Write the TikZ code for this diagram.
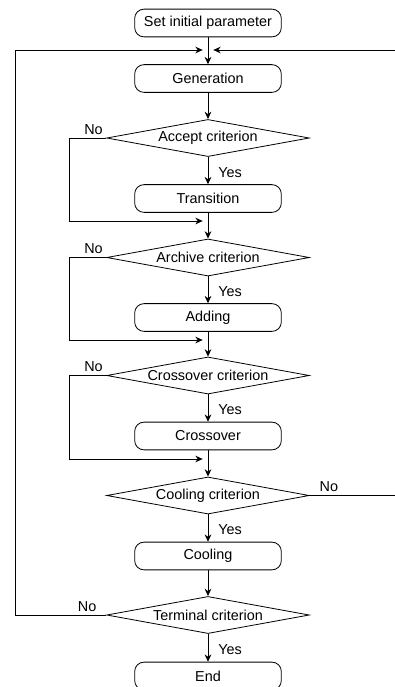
\documentclass[tikz,border=0pt]{standalone}
\usepackage{fontspec}
\setmainfont{Liberation Sans}
\usetikzlibrary{arrows.meta,shapes.geometric}

\begin{document}
\begin{tikzpicture}[
  x=0.75pt,y=-0.75pt,
  every node/.style={font=\fontsize{10.8}{13}\selectfont},
  procbox/.style={draw,line width=0.6pt,rounded corners=7pt,minimum width=110pt,
                  minimum height=20.8pt,inner sep=0pt},
  critbox/.style={draw,line width=0.6pt,diamond,shape aspect=5.47,minimum width=152pt,
                  minimum height=27.8pt,inner sep=0pt},
  arr/.style={-{Stealth[length=5.5pt,width=5pt]},line width=0.6pt},
  lbl/.style={inner sep=2.5pt},
]
  \useasboundingbox (0,0) rectangle (395,687);

  % Process boxes
  \node[procbox] (start) at (208, 23.0) {Set initial parameter};
  \node[procbox] (gen)   at (208, 78.5) {Generation};
  \node[procbox] (trans) at (208,198.5) {Transition};
  \node[procbox] (add)   at (208,317.5) {Adding};
  \node[procbox] (cross) at (208,436.0) {Crossover};
  \node[procbox] (cooling) at (208,556.0) {Cooling};
  \node[procbox] (finish) at (208,676.0) {End};

  % Criteria
  \node[critbox] (acc)   at (208,138.0) {Accept criterion};
  \node[critbox] (arch)  at (208,257.5) {Archive criterion};
  \node[critbox] (xcrit) at (208,375.5) {Crossover criterion};
  \node[critbox] (cool)  at (208,495.5) {Cooling criterion};
  \node[critbox] (term)  at (208,615.0) {Terminal criterion};

  % Merge points
  \coordinate (j0) at (208, 50);
  \coordinate (j1) at (208,221);
  \coordinate (j2) at (208,340);
  \coordinate (j3) at (208,459);
  \coordinate (outL) at (15, 50);
  \coordinate (outR) at (398, 50);

  % Main flow
  \draw[arr] (start) -- (gen);
  \draw[arr] (gen) -- (acc);
  \draw[arr] (acc) -- (trans)
    node[midway,right,lbl,xshift=5pt,yshift=-1.5pt] {Yes};
  \draw[arr] (trans) -- (arch);
  \draw[arr] (arch) -- (add)
    node[midway,right,lbl,xshift=5pt,yshift=-1.5pt] {Yes};
  \draw[arr] (add) -- (xcrit);
  \draw[arr] (xcrit) -- (cross)
    node[midway,right,lbl,xshift=5pt,yshift=-1.5pt] {Yes};
  \draw[arr] (cross) -- (cool);
  \draw[arr] (cool) -- (cooling)
    node[midway,right,lbl,xshift=5pt,yshift=-1.5pt] {Yes};
  \draw[arr] (cooling) -- (term);
  \draw[arr] (term) -- (finish)
    node[midway,right,lbl,xshift=5pt,yshift=-1.5pt] {Yes};

  % Skip loops (No)
  \draw[arr,shorten >=4pt] (acc.west) -- ++(-36.5,0) |- (j1);
  \draw[arr,shorten >=4pt] (arch.west) -- ++(-36.5,0) |- (j2);
  \draw[arr,shorten >=4pt] (xcrit.west) -- ++(-36.5,0) |- (j3);
  \node[lbl,above left] (noacc) at (acc.west) {No};
  \node[lbl,above left] (noarch) at (arch.west) {No};
  \node[lbl,above left] (noxcrit) at (xcrit.west) {No};

  % Outer loops back to generation
  \draw[arr,shorten >=4pt] (term.west) -| (outL) -- (j0);
  \draw[arr,shorten >=4pt] (cool.east) -| (outR) -- (j0);
  \node[lbl,above left,xshift=-4.8pt] (noterm) at (term.west) {No};
  \node[lbl,above right,xshift=4.8pt] (nocool) at (cool.east) {No};
\end{tikzpicture}
\end{document}
